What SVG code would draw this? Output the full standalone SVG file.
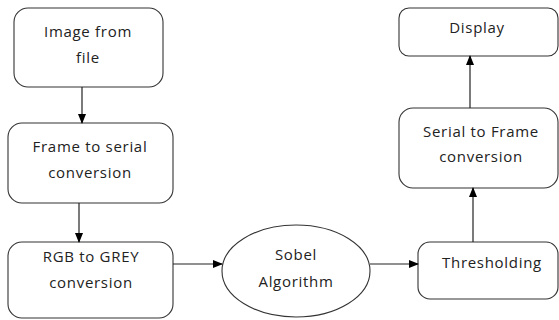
<svg xmlns="http://www.w3.org/2000/svg" width="559" height="320" viewBox="0 0 559 320">
<defs>
<marker id="ah" markerWidth="10" markerHeight="8" refX="9" refY="4" orient="auto" markerUnits="userSpaceOnUse">
<path d="M0,0 L10,4 L0,8 Z" fill="#000"/>
</marker>
<style>
.box{fill:#fff;stroke:#333;stroke-width:1.1}
.t{font-family:"Open Sans","Liberation Sans",sans-serif;font-size:15px;letter-spacing:0.7px;fill:#222;text-anchor:middle}
.c{stroke:#222;stroke-width:1.2;fill:none;marker-end:url(#ah)}
</style>
</defs>
<rect width="559" height="320" fill="#fff"/>
<g id="n1"><rect class="box" x="14" y="8" width="149" height="79" rx="14"/><text class="t" x="88" y="37">Image from</text><text class="t" x="88" y="63">file</text></g>
<g id="n2"><rect class="box" x="8" y="123" width="165" height="80" rx="14"/><text class="t" x="90" y="152">Frame to serial</text><text class="t" x="90" y="178">conversion</text></g>
<g id="n3"><rect class="box" x="8" y="242" width="165" height="76" rx="14"/><text class="t" x="91" y="262">RGB to GREY</text><text class="t" x="91" y="288">conversion</text></g>
<g id="n4"><ellipse class="box" cx="296" cy="271" rx="74" ry="46"/><text class="t" x="296" y="260">Sobel</text><text class="t" x="296" y="287">Algorithm</text></g>
<g id="n5"><rect class="box" x="418" y="242" width="140" height="57" rx="12"/><text class="t" x="492" y="268">Thresholding</text></g>
<g id="n6"><rect class="box" x="399" y="108" width="159" height="80" rx="14"/><text class="t" x="481" y="137">Serial to Frame</text><text class="t" x="481" y="162">conversion</text></g>
<g id="n7"><rect class="box" x="399" y="8" width="159" height="48" rx="10"/><text class="t" x="477" y="33">Display</text></g>
<g id="connectors">
<line class="c" x1="82" y1="87" x2="82" y2="123"/>
<line class="c" x1="79" y1="203" x2="79" y2="242"/>
<line class="c" x1="173" y1="264" x2="222" y2="264"/>
<line class="c" x1="370" y1="264" x2="418" y2="264"/>
<line class="c" x1="473" y1="242" x2="473" y2="188"/>
<line class="c" x1="470" y1="108" x2="470" y2="56"/>
</g>
</svg>
